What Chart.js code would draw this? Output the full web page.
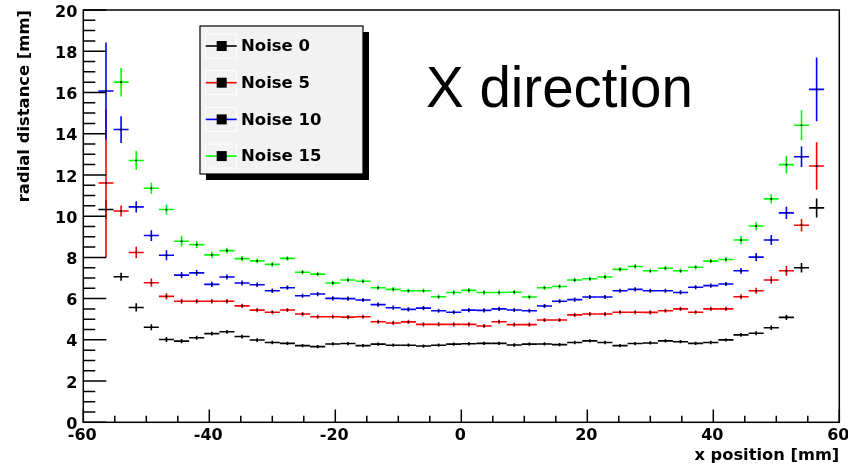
<!DOCTYPE html>
<html>
<head>
<meta charset="utf-8">
<script src="https://cdn.jsdelivr.net/npm/chart.js@4/dist/chart.umd.min.js"></script>
<style>
  html, body { margin: 0; padding: 0; background: #ffffff; }
  #wrap { width: 848px; height: 469px; position: relative; }
</style>
</head>
<body>
<div id="wrap"><canvas id="chart" width="848" height="469"></canvas></div>
<script>
// Bin centres along x [mm]; every bin is 2.4 mm wide.
const binCenters = [
  -56.4, -54.0, -51.6, -49.2, -46.8, -44.4, -42.0, -39.6, -37.2, -34.8, -32.4, -30.0,
  -27.6, -25.2, -22.8, -20.4, -18.0, -15.6, -13.2, -10.8, -8.4, -6.0, -3.6, -1.2,
  1.2, 3.6, 6.0, 8.4, 10.8, 13.2, 15.6, 18.0, 20.4, 22.8, 25.2, 27.6,
  30.0, 32.4, 34.8, 37.2, 39.6, 42.0, 44.4, 46.8, 49.2, 51.6, 54.0, 56.4
];
const binHalfWidth = 1.2;

// Mean radial distance [mm] per bin and its uncertainty, one pair per noise level.
const noise0 = [
  10.32, 7.06, 5.57, 4.61, 4.02, 3.94, 4.10, 4.30, 4.39, 4.16, 3.99, 3.87,
  3.83, 3.72, 3.67, 3.80, 3.82, 3.72, 3.79, 3.74, 3.74, 3.70, 3.74, 3.79,
  3.81, 3.83, 3.83, 3.75, 3.79, 3.80, 3.77, 3.87, 3.95, 3.87, 3.72, 3.82,
  3.85, 3.95, 3.91, 3.83, 3.87, 4.00, 4.24, 4.32, 4.59, 5.09, 7.50, 10.40
];
const noise0Err = [
  0.45, 0.19, 0.20, 0.15, 0.12, 0.10, 0.10, 0.09, 0.09, 0.09, 0.09, 0.08,
  0.08, 0.08, 0.08, 0.08, 0.08, 0.08, 0.08, 0.08, 0.08, 0.08, 0.08, 0.08,
  0.08, 0.08, 0.08, 0.08, 0.08, 0.08, 0.08, 0.08, 0.08, 0.08, 0.08, 0.08,
  0.08, 0.08, 0.08, 0.08, 0.08, 0.08, 0.09, 0.10, 0.11, 0.13, 0.23, 0.46
];
const noise5 = [
  11.61, 10.25, 8.24, 6.77, 6.11, 5.87, 5.87, 5.87, 5.87, 5.65, 5.44, 5.34,
  5.45, 5.25, 5.12, 5.12, 5.10, 5.12, 4.88, 4.82, 4.87, 4.75, 4.75, 4.75,
  4.75, 4.67, 4.88, 4.74, 4.74, 4.96, 4.96, 5.21, 5.25, 5.25, 5.34, 5.34,
  5.33, 5.41, 5.50, 5.34, 5.50, 5.50, 6.09, 6.38, 6.90, 7.35, 9.56, 12.43
];
const noise5Err = [
  3.60, 0.27, 0.28, 0.20, 0.15, 0.12, 0.11, 0.11, 0.11, 0.10, 0.10, 0.10,
  0.10, 0.10, 0.10, 0.10, 0.10, 0.10, 0.10, 0.10, 0.10, 0.10, 0.10, 0.10,
  0.10, 0.10, 0.10, 0.10, 0.10, 0.10, 0.10, 0.10, 0.10, 0.10, 0.10, 0.10,
  0.10, 0.10, 0.10, 0.10, 0.10, 0.10, 0.12, 0.15, 0.18, 0.24, 0.30, 1.15
];
const noise10 = [
  16.07, 14.20, 10.45, 9.06, 8.10, 7.14, 7.25, 6.69, 7.05, 6.76, 6.67, 6.38,
  6.53, 6.14, 6.22, 6.01, 6.00, 5.93, 5.71, 5.56, 5.48, 5.54, 5.41, 5.34,
  5.44, 5.43, 5.50, 5.45, 5.41, 5.64, 5.87, 5.95, 6.08, 6.08, 6.38, 6.45,
  6.38, 6.38, 6.30, 6.55, 6.63, 6.71, 7.35, 8.01, 8.84, 10.16, 12.88, 16.15
];
const noise10Err = [
  2.35, 0.65, 0.27, 0.26, 0.24, 0.15, 0.14, 0.13, 0.12, 0.12, 0.11, 0.11,
  0.10, 0.10, 0.10, 0.10, 0.10, 0.10, 0.10, 0.10, 0.10, 0.10, 0.10, 0.10,
  0.10, 0.10, 0.10, 0.10, 0.10, 0.10, 0.10, 0.10, 0.10, 0.10, 0.10, 0.10,
  0.10, 0.10, 0.10, 0.10, 0.10, 0.10, 0.14, 0.20, 0.24, 0.30, 0.50, 1.55
];
const noise15 = [
  null, 16.50, 12.70, 11.35, 10.32, 8.78, 8.62, 8.12, 8.33, 7.94, 7.83, 7.66,
  7.95, 7.28, 7.19, 6.76, 6.90, 6.84, 6.53, 6.45, 6.38, 6.38, 6.09, 6.30,
  6.40, 6.30, 6.30, 6.31, 6.08, 6.53, 6.59, 6.90, 6.96, 7.05, 7.42, 7.56,
  7.35, 7.47, 7.35, 7.52, 7.82, 7.90, 8.84, 9.52, 10.84, 12.50, 14.41, null
];
const noise15Err = [
  null, 0.69, 0.46, 0.27, 0.24, 0.26, 0.18, 0.15, 0.14, 0.13, 0.12, 0.12,
  0.11, 0.11, 0.11, 0.11, 0.11, 0.11, 0.11, 0.11, 0.11, 0.11, 0.11, 0.11,
  0.11, 0.11, 0.11, 0.11, 0.11, 0.11, 0.11, 0.11, 0.11, 0.11, 0.11, 0.11,
  0.11, 0.11, 0.11, 0.11, 0.11, 0.11, 0.20, 0.20, 0.22, 0.43, 0.73, null
];

const seriesLabels = ['Noise 0', 'Noise 5', 'Noise 10', 'Noise 15'];
const seriesColors = ['#000000', '#ff0000', '#0000ff', '#00ff00'];
const seriesValues = [noise0, noise5, noise10, noise15];
const seriesErrors = [noise0Err, noise5Err, noise10Err, noise15Err];

// Axis ranges and tick spacing.
const xRange = [-60, 60];
const yRange = [0, 20];
const xMajorStep = 20, xMinorStep = 5;
const yMajorStep = 2, yMinorStep = 0.5;

const xTitle = 'x position [mm]';
const yTitle = 'radial distance [mm]';
const panelLabel = 'X direction';

const BOLD_FAMILY = '"DejaVu Sans", sans-serif';
const PLAIN_FAMILY = '"Liberation Sans", Arial, sans-serif';

function toPoints(values, errors) {
  const pts = [];
  binCenters.forEach((x, i) => {
    if (values[i] !== null) pts.push({ x: x, y: values[i], err: errors[i] });
  });
  return pts;
}

// Horizontal bar over the bin width plus the vertical uncertainty bar.
const binErrorBars = {
  id: 'binErrorBars',
  beforeDatasetsDraw(chart) {
    const { ctx, chartArea: a, scales: { x, y } } = chart;
    ctx.save();
    ctx.beginPath();
    ctx.rect(a.left, a.top, a.right - a.left, a.bottom - a.top);
    ctx.clip();
    ctx.lineWidth = 1.6;
    ctx.lineCap = 'butt';
    chart.data.datasets.forEach(ds => {
      ctx.strokeStyle = ds.borderColor;
      ds.data.forEach(p => {
        const px = x.getPixelForValue(p.x);
        const py = y.getPixelForValue(p.y);
        ctx.beginPath();
        ctx.moveTo(x.getPixelForValue(p.x - binHalfWidth), py);
        ctx.lineTo(x.getPixelForValue(p.x + binHalfWidth), py);
        ctx.moveTo(px, y.getPixelForValue(p.y - p.err));
        ctx.lineTo(px, y.getPixelForValue(p.y + p.err));
        ctx.stroke();
      });
    });
    ctx.restore();
  }
};

// Frame round the plot with tick marks pointing inwards.
const frameTicks = {
  id: 'frameTicks',
  afterDatasetsDraw(chart) {
    const { ctx, chartArea: a, scales: { x, y } } = chart;
    ctx.save();
    ctx.strokeStyle = '#000000';
    ctx.lineWidth = 1.5;
    ctx.beginPath();
    const nY = Math.round((yRange[1] - yRange[0]) / yMinorStep);
    const yPer = Math.round(yMajorStep / yMinorStep);
    for (let k = 0; k <= nY; k++) {
      const py = y.getPixelForValue(yRange[0] + k * yMinorStep);
      const len = (k % yPer === 0) ? 23 : 12;
      ctx.moveTo(a.left, py);
      ctx.lineTo(a.left + len, py);
    }
    const nX = Math.round((xRange[1] - xRange[0]) / xMinorStep);
    const xPer = Math.round(xMajorStep / xMinorStep);
    for (let k = 0; k <= nX; k++) {
      const px = x.getPixelForValue(xRange[0] + k * xMinorStep);
      const len = (k % xPer === 0) ? 12.7 : 6.5;
      ctx.moveTo(px, a.bottom);
      ctx.lineTo(px, a.bottom - len);
    }
    ctx.stroke();
    ctx.strokeRect(a.left, a.top, a.right - a.left, a.bottom - a.top);
    ctx.restore();
  }
};

// Boxed legend with drop shadow, and the panel label.
const boxLegend = {
  id: 'boxLegend',
  afterDraw(chart) {
    const ctx = chart.ctx;
    const box = { left: 200, top: 26, width: 163, height: 148, shadow: 6 };
    ctx.save();
    ctx.fillStyle = '#000000';
    ctx.fillRect(box.left + box.shadow, box.top + box.shadow, box.width, box.height);
    ctx.fillStyle = '#f2f2f2';
    ctx.fillRect(box.left, box.top, box.width, box.height);
    ctx.strokeStyle = '#000000';
    ctx.lineWidth = 1.2;
    ctx.strokeRect(box.left, box.top, box.width, box.height);

    chart.data.datasets.forEach((ds, k) => {
      const cy = box.top + 20 + k * 36.7;
      ctx.strokeStyle = '#ffffff';
      ctx.lineWidth = 1;
      ctx.strokeRect(205.5, cy - 12, 31, 24);
      ctx.strokeStyle = ds.borderColor;
      ctx.lineWidth = 1.6;
      ctx.beginPath();
      ctx.moveTo(205.7, cy);
      ctx.lineTo(236.7, cy);
      ctx.stroke();
      ctx.fillStyle = '#000000';
      ctx.fillRect(216.7, cy - 5, 10, 10);
      ctx.font = 'bold 16.5px ' + BOLD_FAMILY;
      ctx.textBaseline = 'middle';
      ctx.textAlign = 'left';
      ctx.fillText(ds.label, 241, cy + 1);
    });

    ctx.font = '56.5px ' + PLAIN_FAMILY;
    ctx.textBaseline = 'alphabetic';
    ctx.textAlign = 'left';
    ctx.fillStyle = '#000000';
    ctx.fillText(panelLabel, 426, 106.7);
    ctx.restore();
  }
};

const canvas = document.getElementById('chart');
new Chart(canvas.getContext('2d'), {
  type: 'scatter',
  data: {
    datasets: seriesLabels.map((label, k) => ({
      label: label,
      data: toPoints(seriesValues[k], seriesErrors[k]),
      borderColor: seriesColors[k],
      backgroundColor: '#000000',
      pointBackgroundColor: '#000000',
      pointBorderWidth: 0,
      pointStyle: 'rect',
      pointRadius: 1.2,
      pointHoverRadius: 1.2,
      showLine: false
    }))
  },
  options: {
    responsive: false,
    animation: false,
    devicePixelRatio: 1,
    events: [],
    layout: { padding: { top: 10, right: 8.7, left: 0, bottom: 0 } },
    plugins: {
      legend: { display: false },
      tooltip: { enabled: false }
    },
    scales: {
      x: {
        type: 'linear',
        min: xRange[0],
        max: xRange[1],
        grid: { display: false, drawTicks: false },
        border: { display: false },
        ticks: {
          stepSize: xMajorStep,
          autoSkip: false,
          maxRotation: 0,
          padding: 3.5,
          labelOffset: -1,
          color: '#000000',
          font: { family: BOLD_FAMILY, size: 16, weight: 'bold' }
        },
        title: {
          display: true,
          text: xTitle,
          align: 'end',
          color: '#000000',
          padding: { top: 0, bottom: 3.7 },
          font: { family: BOLD_FAMILY, size: 16.3, weight: 'bold' }
        },
        afterFit(scale) {
          scale.height = 46.7;
          scale.paddingLeft = 0;
          scale.paddingRight = 0;
        }
      },
      y: {
        type: 'linear',
        min: yRange[0],
        max: yRange[1],
        grid: { display: false, drawTicks: false },
        border: { display: false },
        ticks: {
          stepSize: yMajorStep,
          autoSkip: false,
          padding: 6,
          labelOffset: 2.5,
          color: '#000000',
          font: { family: BOLD_FAMILY, size: 16, weight: 'bold' }
        },
        title: {
          display: true,
          text: yTitle,
          align: 'end',
          color: '#000000',
          padding: { top: 14.7, bottom: 0 },
          font: { family: BOLD_FAMILY, size: 16.4, weight: 'bold' }
        },
        afterFit(scale) {
          scale.width = 83.3;
          scale.paddingTop = 0;
          scale.paddingBottom = 0;
        }
      }
    }
  },
  plugins: [binErrorBars, frameTicks, boxLegend]
});
</script>
</body>
</html>
